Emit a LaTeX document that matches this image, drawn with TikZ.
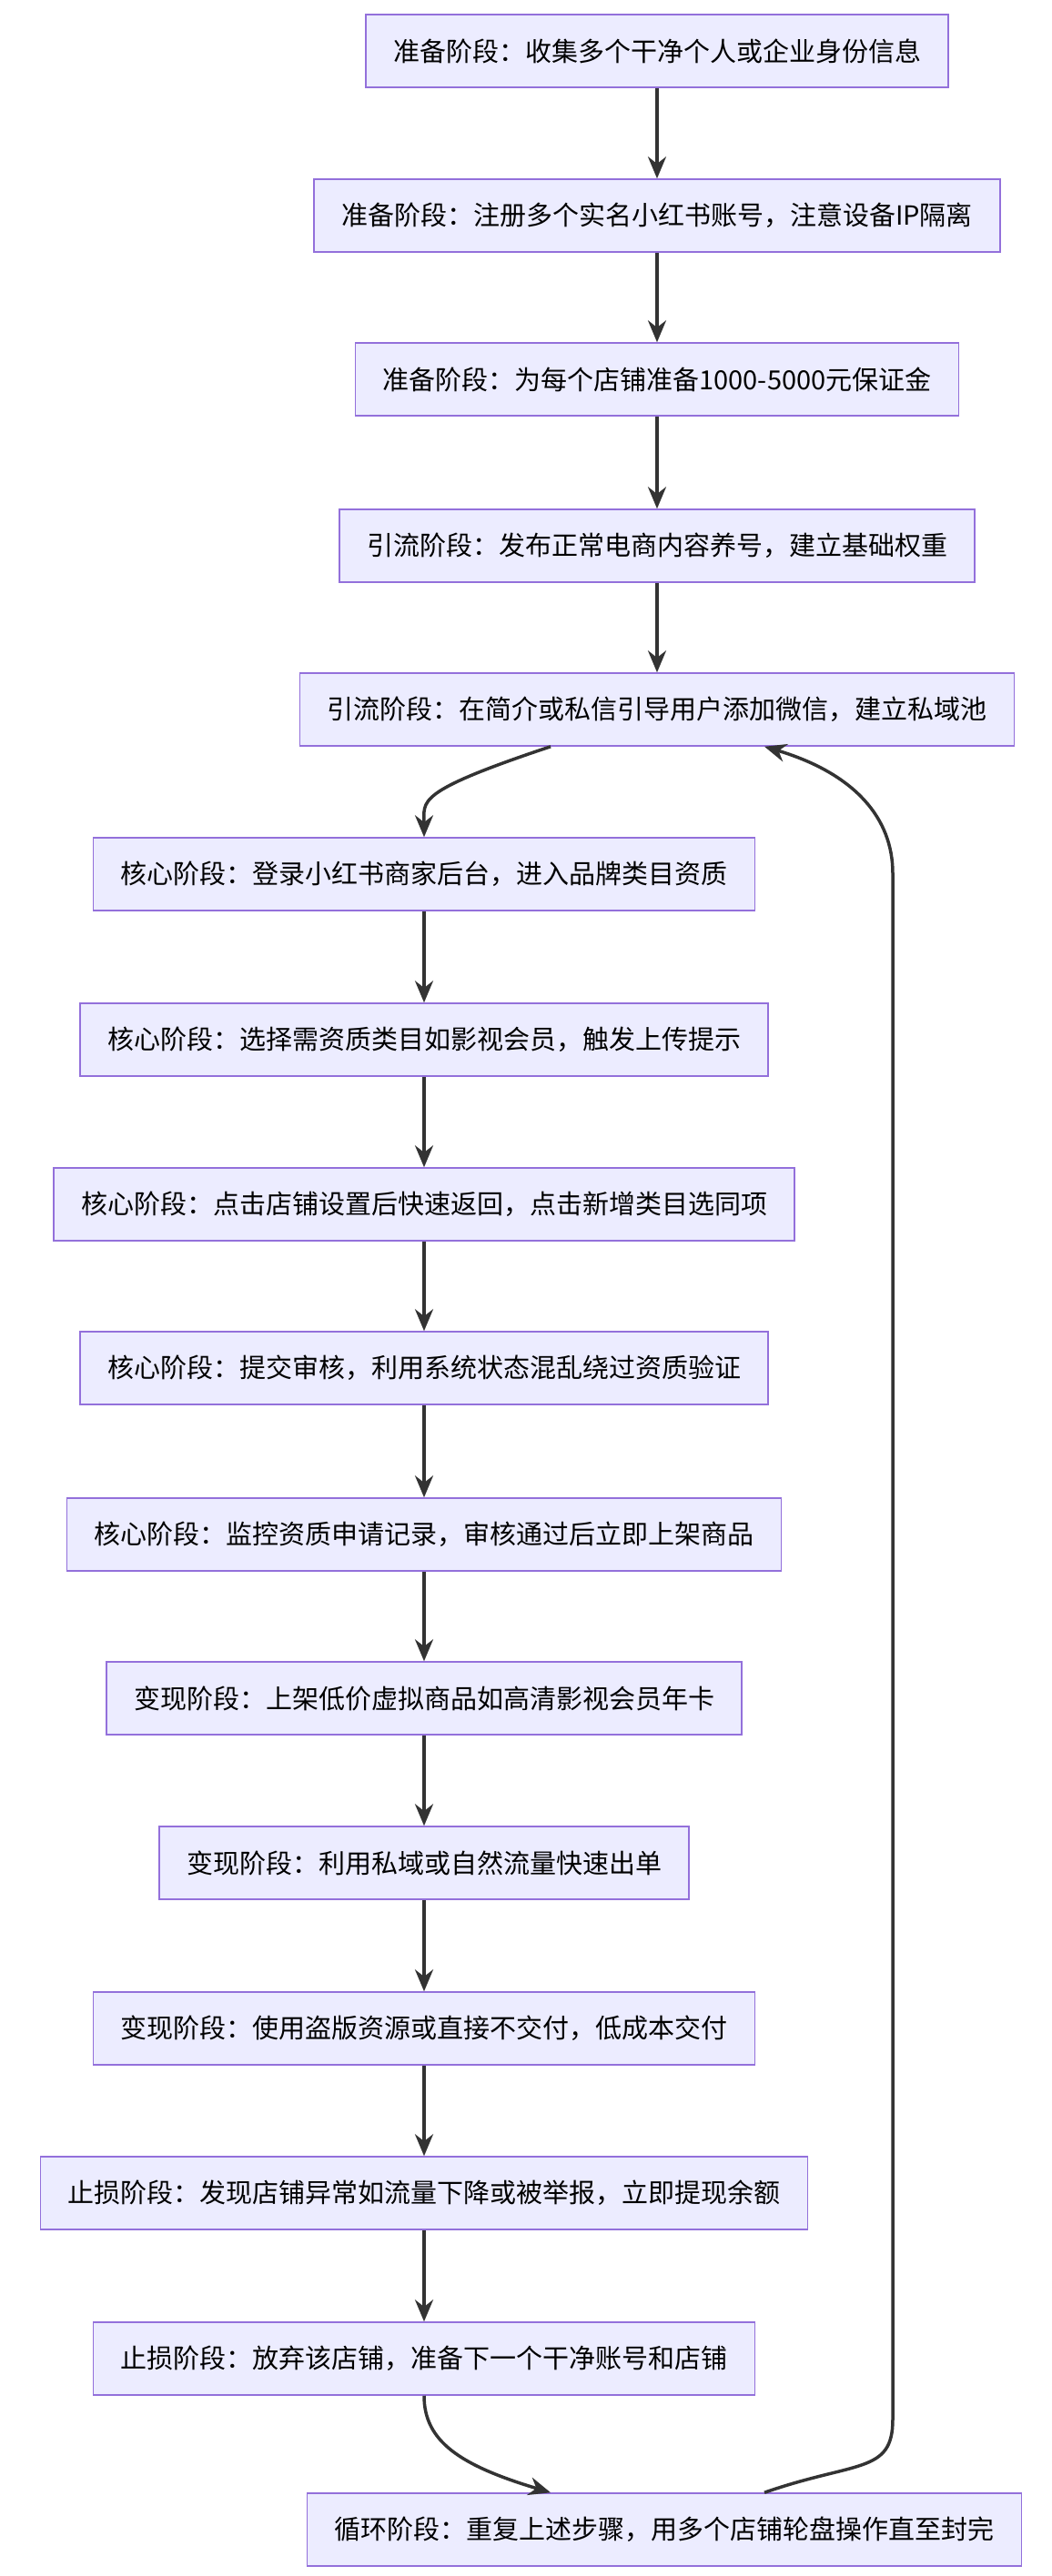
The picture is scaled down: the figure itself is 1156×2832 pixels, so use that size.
\documentclass[tikz,border=0pt]{standalone}
\usepackage{fontspec}
\setmainfont{Noto Sans CJK SC}
\usetikzlibrary{arrows.meta}
\definecolor{boxfill}{HTML}{ECECFF}
\definecolor{boxline}{HTML}{9370DB}
\definecolor{edge}{HTML}{333333}
\tikzset{
  stepbox/.style={draw=boxline, fill=boxfill, line width=1.5pt, minimum height=80pt, inner xsep=30pt, font=\fontsize{29}{34}\selectfont},
  flow/.style={draw=edge, line width=3.5pt, -{Stealth[length=24pt,width=20pt]}}
}
\begin{document}
\begin{tikzpicture}[x=1pt,y=1pt]
\useasboundingbox (0,0) rectangle (1156,-2832);
\node[stepbox] (s1) at (722,-56) {准备阶段：收集多个干净个人或企业身份信息};
\node[stepbox] (s2) at (722,-237) {准备阶段：注册多个实名小红书账号，注意设备IP隔离};
\node[stepbox] (s3) at (722,-417) {准备阶段：为每个店铺准备1000-5000元保证金};
\node[stepbox] (s4) at (722,-600) {引流阶段：发布正常电商内容养号，建立基础权重};
\node[stepbox] (s5) at (722,-780) {引流阶段：在简介或私信引导用户添加微信，建立私域池};
\node[stepbox] (s6) at (466,-961) {核心阶段：登录小红书商家后台，进入品牌类目资质};
\node[stepbox] (s7) at (466,-1143) {核心阶段：选择需资质类目如影视会员，触发上传提示};
\node[stepbox] (s8) at (466,-1324) {核心阶段：点击店铺设置后快速返回，点击新增类目选同项};
\node[stepbox] (s9) at (466,-1504) {核心阶段：提交审核，利用系统状态混乱绕过资质验证};
\node[stepbox] (s10) at (466,-1687) {核心阶段：监控资质申请记录，审核通过后立即上架商品};
\node[stepbox] (s11) at (466,-1867) {变现阶段：上架低价虚拟商品如高清影视会员年卡};
\node[stepbox] (s12) at (466,-2048) {变现阶段：利用私域或自然流量快速出单};
\node[stepbox] (s13) at (466,-2230) {变现阶段：使用盗版资源或直接不交付，低成本交付};
\node[stepbox] (s14) at (466,-2411) {止损阶段：发现店铺异常如流量下降或被举报，立即提现余额};
\node[stepbox] (s15) at (466,-2593) {止损阶段：放弃该店铺，准备下一个干净账号和店铺};
\node[stepbox] (s16) at (730,-2781) {循环阶段：重复上述步骤，用多个店铺轮盘操作直至封完};
% straight links
\draw[flow] (s1) -- (s2);
\draw[flow] (s2) -- (s3);
\draw[flow] (s3) -- (s4);
\draw[flow] (s4) -- (s5);
\draw[flow] (s6) -- (s7);
\draw[flow] (s7) -- (s8);
\draw[flow] (s8) -- (s9);
\draw[flow] (s9) -- (s10);
\draw[flow] (s10) -- (s11);
\draw[flow] (s11) -- (s12);
\draw[flow] (s12) -- (s13);
\draw[flow] (s13) -- (s14);
\draw[flow] (s14) -- (s15);
% bends
\coordinate (c5) at ([xshift=-117pt]s5.south);
\coordinate (c16) at ([xshift=-125pt]s16.north);
\coordinate (r16) at ([xshift=110pt]s16.north);
\coordinate (r5) at ([xshift=118pt]s5.south);
\draw[flow] (c5) .. controls +(-150,-50) and +(0,40) .. (s6.north);
\draw[flow] (s15.south) .. controls +(0,-50) and +(-100,30) .. (c16);
\draw[flow] (r16) .. controls +(100,35) and +(0,-60) .. (981,-2660)
  -- (981,-960) .. controls +(0,60) and +(100,-30) .. (r5);
\end{tikzpicture}
\end{document}
